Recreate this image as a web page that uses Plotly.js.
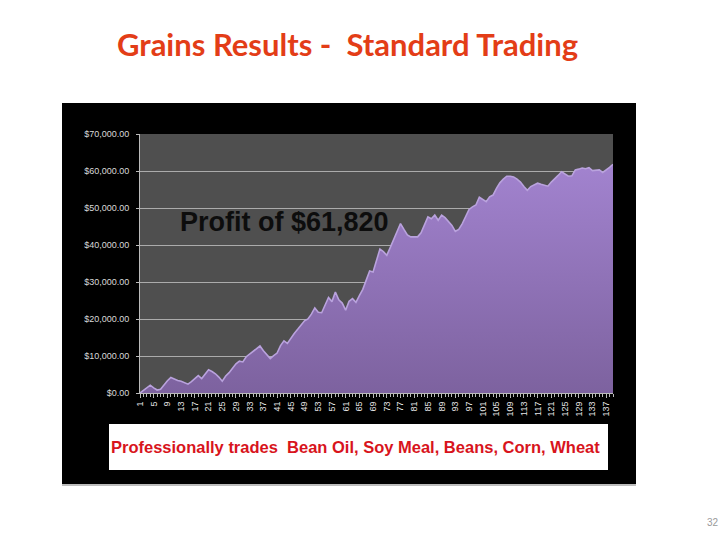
<!DOCTYPE html>
<html>
<head>
<meta charset="utf-8">
<script src="https://cdn.plot.ly/plotly-3.0.1.min.js"></script>
<style>html,body{margin:0;padding:0;background:#fff;}#chart{width:728px;height:546px;}</style>
</head>
<body>
<div id="chart"></div>
<script>
// Trade number (x categories)
const tradeNumbers = Array.from({length: 139}, (_, i) => i + 1);
// Cumulative profit
const cumulativeProfit = [
  0, 700, 1400, 2100, 1400, 800, 1000, 2200, 3300, 4200,
  3700, 3400, 3200, 2800, 2400, 3100, 3900, 4700, 3900, 5200,
  6300, 5800, 5200, 4300, 3200, 4600, 5500, 6700, 7900, 8600,
  8400, 9800, 10500, 11100, 11900, 12700, 11400, 10300, 9300, 10100,
  10800, 12800, 14100, 13400, 14900, 16100, 17200, 18300, 19500, 20000,
  21300, 23000, 21800, 21700, 24000, 25800, 24700, 27300, 25200, 24300,
  22400, 24800, 25500, 24500, 26300, 28000, 30500, 33000, 32700, 35800,
  38900, 38200, 37200, 39300, 41500, 43500, 45800, 44200, 42700, 42200,
  42300, 42200, 43300, 45300, 47600, 47100, 48100, 46700, 48100, 47400,
  46400, 45300, 43700, 44200, 45700, 47800, 49600, 50300, 50800, 52900,
  52200, 51700, 53000, 53500, 55300, 56800, 57800, 58600, 58600, 58400,
  57800, 57000, 55800, 54800, 55800, 56300, 56700, 56400, 56200, 55900,
  57000, 57800, 58800, 59800, 59200, 58600, 58700, 60300, 60500, 60800,
  60600, 60900, 60100, 60200, 60300, 59600, 60200, 61000, 61820
];
const xTickVals = tradeNumbers.filter(n => (n - 1) % 4 === 0);
const xTickText = xTickVals.map(String);
const yTickVals = [0, 10000, 20000, 30000, 40000, 50000, 60000, 70000];

const W = 728, H = 546;
const L = 140, R = 613, T = 134, B = 393;
const px = x => (x - L) / (R - L);
const py = y => (B - y) / (B - T);

const trace = {
  x: tradeNumbers,
  y: cumulativeProfit,
  type: 'scatter',
  mode: 'lines',
  fill: 'tozeroy',
  line: {color: '#b9a2dd', width: 1.6},
  fillgradient: {type: 'vertical', colorscale: [[0, '#7d629f'], [1, '#a283cf']]},
  fillcolor: '#9377bd',
  hoverinfo: 'x+y'
};

const layout = {
  width: W, height: H,
  margin: {l: L, r: W - R, t: T, b: H - B, pad: 0},
  paper_bgcolor: '#ffffff',
  plot_bgcolor: 'rgba(0,0,0,0)',
  showlegend: false,
  title: {
    text: 'Grains Results -\u00a0 Standard Trading',
    font: {family: 'Lato, "Open Sans", sans-serif', size: 31, color: '#e33d17', weight: 'bold'},
    xref: 'container', yref: 'container',
    x: 117 / W, xanchor: 'left', y: 1 - 45 / H, yanchor: 'middle'
  },
  xaxis: {
    range: [1, 139],
    tickmode: 'array', tickvals: xTickVals, ticktext: xTickText,
    tickangle: -90,
    ticks: 'outside', ticklen: 4, tickcolor: '#bbbbbb',
    minor: {tickmode: 'linear', tick0: 1, dtick: 1, ticks: 'outside', ticklen: 3, tickcolor: '#bbbbbb', showgrid: false},
    showgrid: false, zeroline: false,
    showline: true, linecolor: '#bbbbbb', linewidth: 1,
    tickfont: {family: '"Liberation Sans", Arial, sans-serif', size: 9, color: '#e6e6e6'},
    fixedrange: true
  },
  yaxis: {
    range: [0, 70000],
    tickmode: 'array', tickvals: yTickVals,
    tickformat: '$,.2f',
    ticks: 'outside', ticklen: 3, tickcolor: '#bbbbbb',
    ticklabelstandoff: 5,
    showgrid: true, gridcolor: '#ababab', gridwidth: 1,
    zeroline: false,
    showline: true, linecolor: '#bbbbbb', linewidth: 1,
    tickfont: {family: '"Liberation Sans", Arial, sans-serif', size: 9, color: '#d9d9d9'},
    fixedrange: true
  },
  shapes: [
    {type: 'rect', xref: 'paper', yref: 'paper', layer: 'below',
     x0: px(62), x1: px(636), y0: py(484), y1: py(103),
     fillcolor: '#000000', line: {width: 0}},
    {type: 'rect', xref: 'paper', yref: 'paper', layer: 'below',
     x0: px(62), x1: px(636), y0: py(486), y1: py(484),
     fillcolor: '#bdbdbd', line: {width: 0}},
    {type: 'rect', xref: 'paper', yref: 'paper', layer: 'below',
     x0: 0, x1: 1, y0: 0, y1: 1,
     fillcolor: '#4f4f4f', line: {width: 0}},
    {type: 'rect', xref: 'paper', yref: 'paper', layer: 'above',
     x0: px(109), x1: px(608), y0: py(470), y1: py(424),
     fillcolor: '#ffffff', line: {width: 0}}
  ],
  annotations: [
    {text: '<b>Profit of $61,820</b>', xref: 'paper', yref: 'paper',
     x: px(178), xanchor: 'left', y: py(222), yanchor: 'middle', showarrow: false,
     font: {family: '"Liberation Sans", Arial, sans-serif', size: 27, color: '#0d0d0d'}},
    {text: '<b>Professionally trades\u00a0 Bean Oil, Soy Meal, Beans, Corn, Wheat</b>',
     xref: 'paper', yref: 'paper',
     x: px(355), xanchor: 'center', y: py(447), yanchor: 'middle', showarrow: false,
     font: {family: '"Liberation Sans", Arial, sans-serif', size: 16.5, color: '#d8141c'}},
    {text: '32', xref: 'paper', yref: 'paper',
     x: px(713), xanchor: 'center', y: py(522), yanchor: 'middle', showarrow: false,
     font: {family: '"Liberation Sans", Arial, sans-serif', size: 10, color: '#9a9a9a'}}
  ]
};

Plotly.newPlot('chart', [trace], layout, {displayModeBar: false, staticPlot: true});
</script>
</body>
</html>
